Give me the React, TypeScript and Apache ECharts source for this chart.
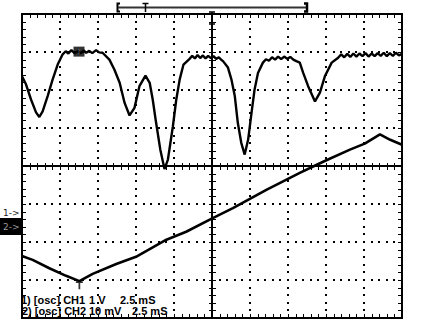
import React, { useEffect, useRef } from "react";
import * as echarts from "echarts";

// Time axis in screen divisions (2.5 mS / div), level axis in vertical divisions
const ch1Div = [
  0.0, 0.105, 0.237, 0.369, 0.456, 0.543, 0.675, 0.807, 0.939,
  1.07, 1.15, 1.22, 1.3, 1.38, 1.47, 1.55, 1.62, 1.69, 1.77, 1.85, 1.95, 2.03, 2.12,
  2.3, 2.43, 2.57, 2.7, 2.83, 2.96, 3.09, 3.25, 3.36, 3.44, 3.53, 3.64, 3.75, 3.84, 3.97, 4.06, 4.15, 4.25,
  4.41, 4.48, 4.55, 4.62, 4.69, 4.76, 4.83, 4.9, 4.97, 5.04, 5.11, 5.18, 5.25, 5.29,
  5.42, 5.51, 5.6, 5.68, 5.77, 5.86, 5.95, 6.04, 6.12, 6.21,
  6.34, 6.42, 6.5, 6.58, 6.66, 6.74, 6.82, 6.9, 6.98, 7.06, 7.14, 7.22,
  7.31, 7.4, 7.53, 7.71, 7.84, 7.97, 8.15,
  8.32, 8.4, 8.48, 8.56, 8.64, 8.72, 8.8, 8.88, 8.96, 9.04, 9.12, 9.2, 9.28, 9.36, 9.44, 9.52, 9.6, 9.68, 9.76, 9.84, 9.92, 10.0,
];
const ch1Level = [
  2.36, 2.15, 1.75, 1.41, 1.29, 1.44, 1.84, 2.28, 2.67,
  2.94, 3.02, 2.96, 3.05, 2.97, 3.02, 2.97, 3.04, 2.98, 3.03, 2.97, 3.05, 2.99, 2.98,
  2.8, 2.54, 2.19, 1.66, 1.33, 1.53, 2.1, 2.38, 2.19, 1.75, 1.13, 0.43, -0.08, 0.17, 1.04, 1.75, 2.28, 2.67,
  2.82, 2.9, 2.83, 2.92, 2.84, 2.91, 2.83, 2.9, 2.84, 2.89, 2.82, 2.86, 2.79, 2.76,
  2.59, 2.28, 1.84, 1.13, 0.61, 0.3, 0.69, 1.4, 2.01, 2.45,
  2.72, 2.81, 2.77, 2.86, 2.8, 2.88, 2.81, 2.88, 2.82, 2.87, 2.8, 2.76,
  2.72, 2.45, 2.1, 1.7, 1.93, 2.36, 2.72,
  2.85, 2.94, 2.86, 2.95, 2.87, 2.96, 2.88, 2.96, 2.89, 2.97, 2.88, 2.96, 2.89, 2.97, 2.9, 2.98, 2.89, 2.97, 2.9, 2.98, 2.91, 2.95,
];

const ch2Div = [0, 0.28, 0.72, 1.16, 1.51, 1.86, 2.48, 3.0, 3.8, 4.32, 4.98, 5.55, 6.43, 7.31, 7.73, 8.01, 8.63, 9.02, 9.42, 9.69, 10.0];
const ch2Level = [-2.37, -2.47, -2.69, -2.89, -3.03, -2.84, -2.58, -2.39, -1.94, -1.73, -1.39, -1.11, -0.63, -0.18, 0.02, 0.15, 0.43, 0.59, 0.83, 0.69, 0.56];

const cursorCh1 = [[1.5, 3.01]];
const groundCh2 = [[1.51, -3.03]];

const infoLine1 = ["1) [osc] CH1", "1 V", "2.5 mS"];
const infoLine2 = ["2) [osc] CH2", "10 mV", "2.5 mS"];

const X_DIVS = 10;
const Y_DIVS = 8;
const MINOR = 5;

const GRID = { left: 22, top: 14, width: 380, height: 304 };

export default function App() {
  const ref = useRef<HTMLDivElement>(null);
  useEffect(() => {
    document.body.style.margin = "0";
    const chart = echarts.init(ref.current!, null, { renderer: "svg" });
    const font = 'bold 11px "Liberation Sans", Arial, sans-serif';
    const txt = (x: number, y: number, text: string, f = font, fill = "#000") => ({
      type: "text",
      x,
      y,
      z: 100,
      style: { text, font: f, fill, verticalAlign: "middle", textVerticalAlign: "middle" },
    });
    const ln = (x1: number, y1: number, x2: number, y2: number, w = 1.5, c = "#000", z = 60) => ({
      type: "line",
      z,
      shape: { x1, y1, x2, y2 },
      style: { stroke: c, lineWidth: w },
    });
    const dot = (x: number, y: number) => ({
      type: "rect",
      z: 40,
      silent: true,
      shape: { x: Math.round(x) - 1, y: Math.round(y) - 1, width: 2, height: 2 },
      style: { fill: "#000" },
    });
    const baseAxis = (min: number, max: number) => ({
      type: "value",
      min,
      max,
      interval: 1,
      axisLine: { show: false, onZero: false },
      axisTick: { show: false },
      minorTick: { show: false },
      axisLabel: { show: false },
      splitLine: { show: false },
    });
    chart.setOption({
      animation: false,
      backgroundColor: "#fff",
      grid: GRID,
      xAxis: baseAxis(0, X_DIVS),
      yAxis: baseAxis(-Y_DIVS / 2, Y_DIVS / 2),
      series: [
        {
          type: "line",
          data: ch1Div.map((x, i) => [x, ch1Level[i]]),
          symbol: "none",
          lineStyle: { color: "#000", width: 2.4 },
          z: 5,
        },
        {
          type: "line",
          data: ch2Div.map((x, i) => [x, ch2Level[i]]),
          symbol: "none",
          lineStyle: { color: "#000", width: 2.6 },
          z: 5,
        },
        {
          type: "scatter",
          data: cursorCh1,
          symbol: "rect",
          symbolSize: [11, 10],
          itemStyle: { color: "#000" },
          label: { show: true, position: "inside", formatter: "I", color: "#888", fontSize: 7 },
          z: 6,
        },
        {
          type: "scatter",
          data: groundCh2,
          symbol: "path://M0,0H8V2H5V9H3V2H0Z",
          symbolSize: [7, 8],
          symbolOffset: [0, 4],
          itemStyle: { color: "#000" },
          z: 6,
        },
      ],
    });

    const P = (x: number, y: number) => chart.convertToPixel({ gridIndex: 0 }, [x, y]) as number[];
    const [L, T] = P(0, Y_DIVS / 2);
    const [R, B] = P(X_DIVS, -Y_DIVS / 2);
    const [CX, CY] = P(X_DIVS / 2, 0);
    const els: any[] = [];
    // dotted graticule: one dot per minor division along every division line
    for (let i = 1; i < X_DIVS; i++) {
      const x = P(i, 0)[0];
      for (let k = 1; k < Y_DIVS * MINOR; k++) els.push(dot(x, P(0, -Y_DIVS / 2 + k / MINOR)[1]));
    }
    for (let j = 1; j < Y_DIVS; j++) {
      const y = P(0, -Y_DIVS / 2 + j)[1];
      for (let k = 1; k < X_DIVS * MINOR; k++) els.push(dot(P(k / MINOR, 0)[0], y));
    }
    els.push({ type: "rect", z: 60, shape: { x: L, y: T, width: R - L, height: B - T }, style: { fill: null, stroke: "#000", lineWidth: 2 } });
    els.push(ln(CX, T, CX, B, 2));
    els.push(ln(L, CY, R, CY, 2));
    for (let k = 0; k <= X_DIVS * MINOR; k++) {
      const x = Math.round(P(k / MINOR, 0)[0]) + 0.5;
      els.push(ln(x, T, x, T + 4, 1), ln(x, B - 4, x, B, 1), ln(x, CY - 3, x, CY + 4, 1));
    }
    for (let k = 0; k <= Y_DIVS * MINOR; k++) {
      const y = Math.round(P(0, -Y_DIVS / 2 + k / MINOR)[1]) + 0.5;
      els.push(ln(L, y, L + 4, y, 1), ln(R - 4, y, R, y, 1), ln(CX - 3, y, CX + 4, y, 1));
    }
    els.push(
      // memory window bracket
      { type: "polyline", z: 100, shape: { points: [[120, 3.5], [117.5, 3.5], [117.5, 11.5], [120, 11.5]] }, style: { stroke: "#000", lineWidth: 2, fill: null } },
      { type: "polyline", z: 100, shape: { points: [[304, 3.5], [307, 3.5], [307, 11.5], [304, 11.5]] }, style: { stroke: "#000", lineWidth: 2.5, fill: null } },
      ln(118, 7.5, 306, 7.5, 2, "#333", 100),
      ln(142.5, 3.5, 148.5, 3.5, 1.5, "#000", 100),
      ln(145.5, 3.5, 145.5, 12, 1.5, "#000", 100),
      // trigger position marker
      ln(CX, 12, CX, 24, 1.5, "#000", 100),
      ln(CX - 3, 24, CX + 3, 24, 1.5, "#000", 100),
      ln(CX - 3, 12, CX + 3, 12, 1.5, "#000", 100),
      // channel markers
      txt(3, 212.5, "1->", '9px "DejaVu Sans", sans-serif', "#222"),
      { type: "rect", z: 100, shape: { x: 0, y: 218, width: 22, height: 17 }, style: { fill: "#000" } },
      txt(3, 226.5, "2->", '9px "DejaVu Sans", sans-serif', "#999"),
      // channel info
      txt(21, 300, infoLine1[0]),
      txt(89, 300, infoLine1[1]),
      txt(120, 300, infoLine1[2]),
      txt(22, 310.5, infoLine2[0]),
      txt(89, 310.5, infoLine2[1]),
      txt(132, 310.5, infoLine2[2])
    );
    chart.setOption({ graphic: els });
    return () => chart.dispose();
  }, []);
  return (
    <div
      ref={ref}
      style={{ position: "absolute", left: 0, top: 0, width: 421, height: 325, background: "#fff" }}
    />
  );
}
